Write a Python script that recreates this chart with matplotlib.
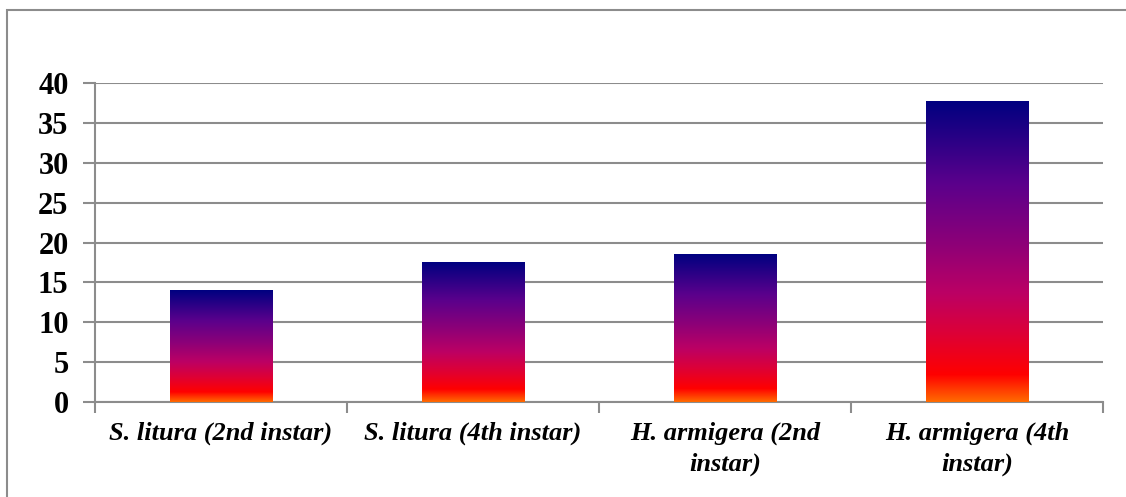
import numpy as np
import matplotlib
matplotlib.use('Agg')
import matplotlib.pyplot as plt
from matplotlib.colors import LinearSegmentedColormap
from matplotlib.patches import Rectangle


# Datele graficului
categories = ['S. litura (2nd instar)', 'S. litura (4th instar)',
              'H. armigera (2nd\ninstar)', 'H. armigera (4th\ninstar)']
values = [14.05, 17.55, 18.55, 37.8]
y_ticks = [0, 5, 10, 15, 20, 25, 30, 35, 40]

# Gradient de la portocaliu (jos) la bleumarin (sus)
fire = LinearSegmentedColormap.from_list('fire', [
    (0.0, '#ff6a00'),
    (0.09, '#ff0000'),
    (0.23, '#dc0038'),
    (0.36, '#bc0064'),
    (0.53, '#8c0078'),
    (0.73, '#5a008c'),
    (1.0, '#000080'),
])

plt.rcParams['font.family'] = ['Liberation Serif', 'DejaVu Serif']
grid_color = '#8c8c8c'

fig = plt.figure(figsize=(11.26, 4.97), dpi=100)
# chenarul exterior (doar stanga si sus se vad)
fig.patches.append(Rectangle((7 / 1126, -0.1), 1.2, 1.1 - 10 / 497, transform=fig.transFigure,
                             fill=False, edgecolor=grid_color, linewidth=1.5))

ax = fig.add_axes([95 / 1126, (497 - 401.7) / 497, (1103 - 95) / 1126, (401.7 - 83.3) / 497])

x = np.arange(len(categories))
width = 0.405
bars = ax.bar(x, values, width=width, color='none', zorder=3)

grad = np.linspace(0, 1, 256).reshape(-1, 1)
for b in bars:
    x0 = b.get_x()
    h = b.get_height()
    ax.imshow(grad, extent=[x0, x0 + width, 0, h], origin='lower', aspect='auto',
              cmap=fire, zorder=3, interpolation='bilinear')

ax.set_xlim(-0.5, len(categories) - 0.5)
ax.set_ylim(0, 40)
ax.set_yticks(y_ticks)
ax.set_yticklabels([str(t) for t in y_ticks], fontsize=22, fontweight='bold')

ax.set_xticks(x)
ax.set_xticklabels(categories, fontsize=19, fontweight='bold', style='italic', linespacing=1.45)
ax.set_xticks(np.arange(len(categories) + 1) - 0.5, minor=True)
ax.tick_params(axis='x', which='major', length=0, pad=14)
ax.tick_params(axis='x', which='minor', length=8, width=1.5, color=grid_color, direction='out')
ax.tick_params(axis='y', length=9, width=1.5, color=grid_color, direction='out', pad=10)

ax.yaxis.grid(True, color=grid_color, linewidth=1.5, zorder=0)
ax.set_axisbelow(True)
for s in ['top', 'right']:
    ax.spines[s].set_visible(False)
for s in ['left', 'bottom']:
    ax.spines[s].set_color(grid_color)
    ax.spines[s].set_linewidth(1.5)

fig.savefig('out.png', dpi=100)
